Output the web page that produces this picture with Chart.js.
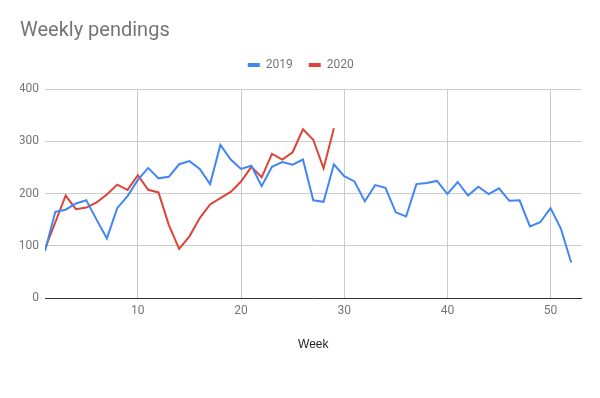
<!DOCTYPE html>
<html>
<head>
<meta charset="utf-8">
<script src="https://cdn.jsdelivr.net/npm/chart.js@4"></script>
<style>
  html, body { margin: 0; padding: 0; background: #fff; }
  #wrap { width: 600px; height: 398px; }
</style>
</head>
<body>
<div id="wrap"><canvas id="weeklyChart"></canvas></div>
<script>
// Weekly pendings, 2019 vs 2020

const weeks = [1, 2, 3, 4, 5, 6, 7, 8, 9, 10, 11, 12, 13, 14, 15, 16, 17, 18, 19, 20,
    21, 22, 23, 24, 25, 26, 27, 28, 29, 30, 31, 32, 33, 34, 35, 36, 37, 38, 39, 40,
    41, 42, 43, 44, 45, 46, 47, 48, 49, 50, 51, 52];

const pendings2019 = [90, 165, 169, 181, 187, 150, 114, 172, 195, 226,
    249, 229, 232, 256, 262, 247, 218, 293, 265, 247,
    253, 214, 251, 260, 255, 265, 187, 184, 256, 233,
    223, 185, 216, 211, 164, 156, 218, 220, 224, 199,
    222, 196, 213, 199, 210, 186, 187, 137, 145, 172,
    133, 68];

const pendings2020 = [94, 145, 196, 170, 173, 183, 198, 217, 207, 235,
    207, 202, 140, 94, 118, 153, 179, 191, 203, 223,
    251, 231, 276, 265, 279, 323, 303, 248, 325];

const xTicks = [10, 20, 30, 40, 50];
const yTicks = [0, 100, 200, 300, 400];

function toPoints(values) {
    return values.map((v, i) => ({ x: weeks[i], y: v }));
}

const ctx = document.getElementById('weeklyChart');

new Chart(ctx, {
    type: 'line',
    data: {
        datasets: [
            {
                label: '2019',
                data: toPoints(pendings2019),
                borderColor: '#4285F4',
                backgroundColor: '#4285F4',
                borderWidth: 2,
                pointRadius: 0,
                tension: 0,
                xAxisID: 'x',
                yAxisID: 'y'
            },
            {
                label: '2020',
                data: toPoints(pendings2020),
                borderColor: '#DB4437',
                backgroundColor: '#DB4437',
                borderWidth: 2,
                pointRadius: 0,
                tension: 0,
                xAxisID: 'x',
                yAxisID: 'y'
            }
        ]
    },
    options: {
        responsive: true,
        maintainAspectRatio: false,
        animation: false,
        layout: {
            padding: { left: 20, right: 18.5, top: 0, bottom: 0 }
        },
        plugins: {
            title: {
                display: true,
                text: 'Weekly pendings',
                align: 'start',
                color: '#757575',
                font: { family: 'Roboto', size: 20, weight: 'normal' },
                padding: { top: 19, bottom: 0 }
            },
            legend: {
                position: 'top',
                labels: {
                    color: '#757575',
                    font: { family: 'Roboto', size: 12 },
                    boxWidth: 12,
                    boxHeight: 4,
                    padding: 16,
                    generateLabels(chart) {
                        return chart.data.datasets.map((ds, i) => ({
                            text: ds.label,
                            fillStyle: ds.borderColor,
                            strokeStyle: ds.borderColor,
                            lineWidth: 0,
                            fontColor: '#757575',
                            hidden: !chart.isDatasetVisible(i),
                            datasetIndex: i
                        }));
                    }
                }
            },
            tooltip: { enabled: false }
        },
        scales: {
            x: {
                type: 'linear',
                position: 'bottom',
                min: 1,
                max: 53,
                afterBuildTicks(scale) {
                    scale.ticks = xTicks.map(v => ({ value: v }));
                },
                afterFit(scale) {
                    scale.height = 100;
                },
                grid: {
                    color: '#cccccc',
                    drawTicks: false
                },
                border: {
                    display: true,
                    color: '#333333',
                    width: 1
                },
                ticks: {
                    color: '#757575',
                    font: { family: 'Roboto', size: 12 },
                    padding: 6,
                    maxRotation: 0
                },
                title: {
                    display: true,
                    text: 'Week',
                    color: '#222222',
                    font: { family: 'Liberation Sans', size: 12 },
                    padding: { top: 0, bottom: 46 }
                }
            },
            // empty axis used only as a spacer under the legend
            xTop: {
                type: 'linear',
                axis: 'x',
                position: 'top',
                display: true,
                afterFit(scale) {
                    scale.height = 8;
                },
                grid: { display: false },
                border: { display: false },
                ticks: { display: false }
            },
            y: {
                min: 0,
                max: 400,
                afterBuildTicks(scale) {
                    scale.ticks = yTicks.map(v => ({ value: v }));
                },
                afterFit(scale) {
                    scale.width = 25;
                },
                grid: {
                    color: c => (c.tick && c.tick.value === 0) ? 'rgba(0,0,0,0)' : '#cccccc',
                    drawTicks: false
                },
                border: { display: false },
                ticks: {
                    color: '#757575',
                    font: { family: 'Roboto', size: 12 },
                    padding: 6
                }
            }
        }
    }
});
</script>
</body>
</html>
